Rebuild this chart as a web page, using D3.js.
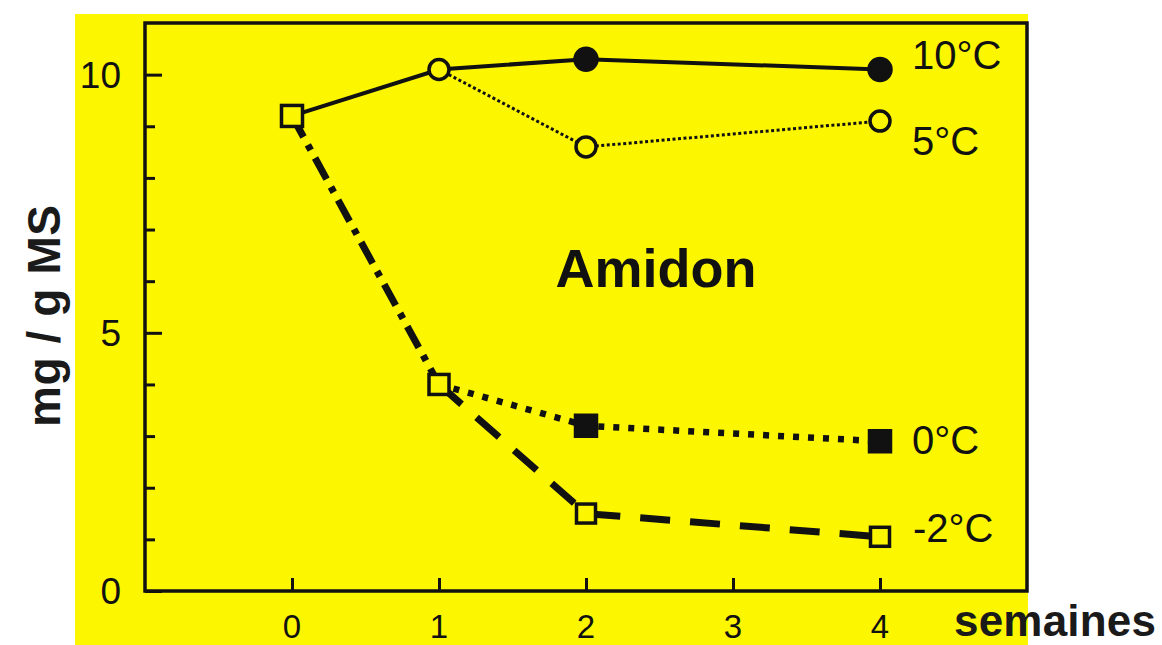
<!DOCTYPE html>
<html><head><meta charset="utf-8">
<script src="https://cdn.jsdelivr.net/npm/d3@7"></script>
<style>html,body{margin:0;padding:0;background:#fff;}svg{display:block;}</style>
</head><body>
<svg id="c" width="1162" height="645"></svg>
<script>
// ---- data ----
const weeks = [0, 1, 2, 4];
const xTicks = [0, 1, 2, 3, 4];
const yTicksMajor = [0, 5, 10];
const yTicksMinor = [1, 2, 3, 4, 6, 7, 8, 9];
const seriesNames = ["10°C", "5°C", "0°C", "-2°C"];
const v10 = [9.2, 10.1, 10.3, 10.1];
const v5 = [9.2, 10.1, 8.6, 9.1];
const v0 = [9.2, 4.0, 3.2, 2.9];
const vm2 = [9.2, 4.0, 1.5, 1.05];
const title = "Amidon";
const yLabel = "mg / g MS";
const xLabel = "semaines";

const svg = d3.select("#c");
const ink = "#111";
const bg = "#fcf700";
svg.append("rect").attr("x", 75).attr("y", 14).attr("width", 953).attr("height", 631).attr("fill", bg);

const x = d3.scaleLinear().domain([-1, 5]).range([145, 1027]);
const y = d3.scaleLinear().domain([0, 11]).range([591, 23]);

// frame
svg.append("rect").attr("x", x(-1)).attr("y", y(11)).attr("width", x(5) - x(-1)).attr("height", y(0) - y(11))
  .attr("fill", "none").attr("stroke", ink).attr("stroke-width", 3.5);

// y axis ticks (inward)
const yAxis = d3.axisRight(y).tickValues(yTicksMajor).tickSize(17).tickFormat("");
const gy = svg.append("g").attr("transform", `translate(${x(-1)},0)`).call(yAxis);
gy.select(".domain").remove();
gy.selectAll("line").attr("stroke", ink).attr("stroke-width", 3);
const yAxisMinor = d3.axisRight(y).tickValues(yTicksMinor).tickSize(10).tickFormat("");
const gym = svg.append("g").attr("transform", `translate(${x(-1)},0)`).call(yAxisMinor);
gym.select(".domain").remove();
gym.selectAll("line").attr("stroke", ink).attr("stroke-width", 3);
svg.append("g").selectAll("text").data(yTicksMajor).join("text")
  .attr("x", 121).attr("y", d => y(d) + 13).attr("text-anchor", "end")
  .attr("font-family", "Liberation Sans, Arial, sans-serif").attr("font-size", 37).attr("fill", ink)
  .text(d => d);

// x axis ticks (inward)
const xAxis = d3.axisTop(x).tickValues(xTicks).tickSize(13).tickFormat("");
const gx = svg.append("g").attr("transform", `translate(0,${y(0)})`).call(xAxis);
gx.select(".domain").remove();
gx.selectAll("line").attr("stroke", ink).attr("stroke-width", 3);
svg.append("g").selectAll("text").data(xTicks).join("text")
  .attr("x", d => x(d)).attr("y", 638).attr("text-anchor", "middle")
  .attr("font-family", "Liberation Sans, Arial, sans-serif").attr("font-size", 33).attr("fill", ink)
  .text(d => d);

// lines
const line = d3.line().x(d => x(d[0])).y(d => y(d[1]));
const pts = v => weeks.map((w, i) => [w, v[i]]);
function seg(v, a, b, style) {
  const p = pts(v).slice(a, b + 1);
  const path = svg.append("path").attr("d", line(p)).attr("fill", "none").attr("stroke", ink)
    .attr("stroke-width", style.w).attr("stroke-linecap", style.cap || "butt");
  if (style.dash) path.attr("stroke-dasharray", style.dash);
}
seg(v10, 0, 3, { w: 4 });                                  // 10°C solid (incl. shared 0->1)
seg(v5, 1, 3, { w: 3, dash: "3,2.5" });                    // 5°C fine dotted
seg(v0, 0, 1, { w: 7, dash: "24,9,6,9" });                 // cold dash-dot
seg(v0, 1, 3, { w: 6.5, dash: "6,9" });                    // 0°C dotted
seg(vm2, 1, 3, { w: 7, dash: "30,20" });                   // -2°C dashed

// markers
const mk = svg.append("g");
function circle(w, v, filled, r) {
  mk.append("circle").attr("cx", x(w)).attr("cy", y(v)).attr("r", r)
    .attr("fill", filled ? ink : bg).attr("stroke", ink).attr("stroke-width", 3.5);
}
function square(w, v, filled, s) {
  mk.append("rect").attr("x", x(w) - s / 2).attr("y", y(v) - s / 2).attr("width", s).attr("height", s)
    .attr("fill", filled ? ink : bg).attr("stroke", ink).attr("stroke-width", 3.5);
}
square(weeks[0], v10[0], false, 21);
circle(weeks[1], v10[1], false, 10);
square(weeks[1], v0[1], false, 20);
[2, 3].forEach(i => {
  circle(weeks[i], v10[i], true, 11);
  circle(weeks[i], v5[i], false, 10);
  square(weeks[i], v0[i], true, 21);
  square(weeks[i], vm2[i], false, 19);
});

// series labels
const labelVals = [v10[3], v5[3], v0[3], vm2[3]];
const labelDy = [0, 34, 13, 5];
svg.append("g").selectAll("text").data(seriesNames).join("text")
  .attr("x", (d, i) => i === 3 ? 913 : 912)
  .attr("y", (d, i) => y(labelVals[i]) + labelDy[i])
  .attr("font-family", "Liberation Sans, Arial, sans-serif").attr("font-size", 40).attr("fill", ink)
  .text(d => d);

// titles
svg.append("text").attr("x", 656).attr("y", 287).attr("text-anchor", "middle")
  .attr("font-family", "Liberation Sans, Arial, sans-serif").attr("font-weight", "bold")
  .attr("font-size", 54).attr("fill", ink).text(title);
svg.append("text").attr("transform", "translate(60,316) rotate(-90)").attr("text-anchor", "middle")
  .attr("font-family", "Liberation Sans, Arial, sans-serif").attr("font-weight", "bold")
  .attr("font-size", 46).attr("fill", "#1a1a1a").attr("textLength", 222).text(yLabel);
svg.append("text").attr("x", 954).attr("y", 636)
  .attr("font-family", "Liberation Sans, Arial, sans-serif").attr("font-weight", "bold")
  .attr("font-size", 44).attr("fill", "#1a1a1a").attr("textLength", 202).text(xLabel);
</script>
</body></html>
